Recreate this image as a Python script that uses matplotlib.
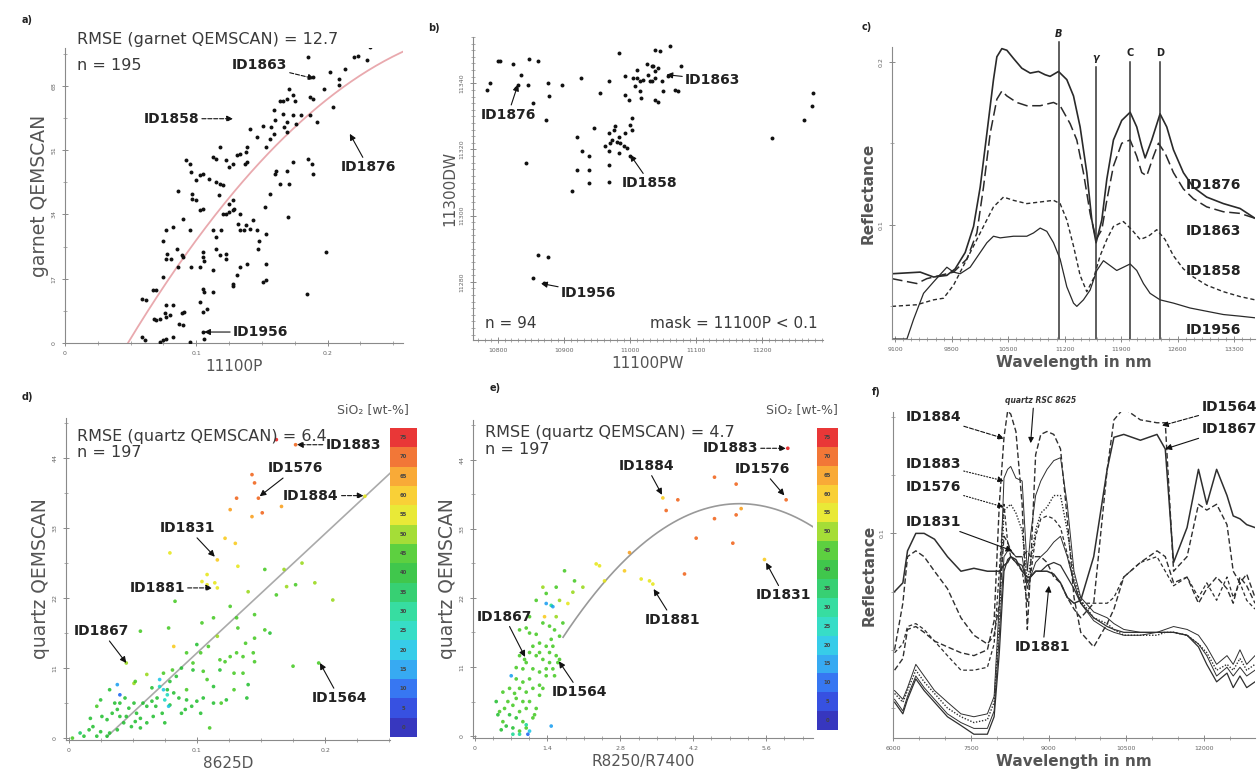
import matplotlib
matplotlib.use("Agg")
import matplotlib.pyplot as plt
import numpy as np
from matplotlib.colors import ListedColormap, BoundaryNorm
from matplotlib.ticker import AutoMinorLocator

#------------------------------------data------------------------------------------------------------

# a) garnet QEMSCAN vs 11100P
a_x = [0.232,0.230,0.223,0.220,0.213,0.209,0.209,0.202,0.197,0.204,0.185,0.189,0.187,0.189,0.187,0.192,
       0.185,0.188,0.189,0.184,0.199,0.174,0.171,0.175,0.169,0.166,0.164,0.159,0.166,0.174,0.180,0.176,
       0.169,0.167,0.169,0.160,0.157,0.159,0.156,0.153,0.151,0.146,0.141,0.139,0.138,0.137,0.139,0.133,
       0.131,0.128,0.125,0.123,0.118,0.115,0.113,0.110,0.115,0.118,0.120,0.117,0.105,0.103,0.092,0.095,
       0.096,0.100,0.097,0.100,0.097,0.103,0.105,0.086,0.090,0.082,0.077,0.075,0.078,0.077,0.081,0.085,
       0.090,0.086,0.089,0.095,0.096,0.103,0.105,0.105,0.106,0.113,0.115,0.119,0.120,0.123,0.125,0.128,
       0.129,0.128,0.125,0.133,0.132,0.133,0.136,0.138,0.141,0.143,0.146,0.148,0.152,0.153,0.156,0.160,
       0.161,0.164,0.169,0.171,0.174,0.170,0.153,0.153,0.151,0.139,0.131,0.128,0.123,0.123,0.115,0.113,
       0.105,0.106,0.113,0.103,0.105,0.108,0.089,0.087,0.090,0.091,0.082,0.077,0.075,0.069,0.067,0.062,
       0.059,0.068,0.072,0.069,0.077,0.076,0.080,0.059,0.061,0.072,0.075,0.077,0.082,0.095,0.105,0.106,
       0.128,0.133,0.147,0.118]
a_y = [78.2,74.7,76.0,75.6,72.5,69.9,68.1,71.6,67.2,62.4,75.6,70.3,65.0,64.6,60.2,58.4,
       48.7,47.4,44.8,13.0,24.1,65.5,67.2,64.1,64.6,64.1,64.1,61.5,60.6,60.2,60.2,58.0,
       58.4,57.1,55.8,58.9,57.1,55.3,54.0,51.8,57.5,54.4,56.6,51.8,50.5,47.4,47.8,50.0,
       49.6,47.4,46.5,48.3,51.8,48.7,49.2,43.4,42.6,42.1,41.7,39.0,44.8,44.3,48.3,47.4,
       45.2,43.0,39.5,37.7,38.1,35.1,35.5,40.3,32.9,30.7,29.8,27.1,23.6,22.3,22.3,24.9,
       22.7,20.1,23.2,29.8,20.1,20.1,24.1,22.7,21.8,29.8,28.0,29.8,34.2,34.2,34.6,35.1,
       35.5,37.7,36.8,34.2,31.5,29.8,29.8,31.1,30.2,32.4,29.8,27.1,35.9,28.9,39.5,44.8,
       45.6,42.1,45.6,42.1,47.8,33.3,21.0,16.6,16.1,21.0,17.9,15.2,23.6,22.3,24.9,19.2,
       14.4,13.5,13.5,10.8,8.2,9.1,7.8,5.1,4.7,8.2,10.0,10.0,17.4,13.9,13.9,11.3,
       11.7,6.4,6.4,6.0,6.9,7.8,7.3,1.6,0.7,0.3,0.7,1.1,1.6,0.3,2.9,1.1,
       15.6,20.1,24.9,23.2]
a_fit = [-985.6, 668.7, -29.8]          # quadratic fit, highest power first
a_fit_range = [0.048, 0.258]

# b) 11300DW vs 11100PW
b_x = [10782.5,10787.5,10800,10802.5,10822.5,10835,10830,10827.5,10847.5,10860,10845,10852.5,10875,
       10877.5,10872.5,10897.5,10842.5,10860,10875,10852.5,10870,10925,10955,10967.5,10982.5,10992.5,
       10992.5,10997.5,11007.5,11010,11015,11015,11020,11027.5,11025,11032.5,11037.5,11037.5,11032.5,
       11042.5,11047.5,11050,11037.5,11045,11060,11057.5,11067.5,11072.5,11077.5,11037.5,11042.5,
       11016.5,11002.5,11000,11002.5,10992.5,10982.5,10977.5,10975,10972.5,10967.5,10970,10980,10985,
       10990,10995,11000,10962.5,10967.5,10982.5,10967.5,10967.5,10945,10937.5,10920,10927.5,10920,
       10937.5,10937.5,10912.5,11215,11262.5,11275,11277.5,11005,11010,11030,11035]
b_y = [11338.1,11340.1,11346.7,11346.7,11345.7,11342.6,11339.6,11338.6,11347.2,11346.7,11339.6,11334.0,
       11340.1,11336.1,11329.0,11339.6,11315.9,11288.1,11287.6,11281.0,11279.5,11341.6,11337.1,11340.6,
       11349.2,11342.1,11336.6,11335.0,11339.1,11341.6,11340.6,11337.6,11341.1,11342.6,11345.7,11345.1,
       11343.6,11341.6,11340.6,11344.6,11340.6,11337.6,11350.2,11349.7,11351.2,11342.1,11338.1,11337.6,
       11345.1,11335.0,11334.5,11335.6,11329.5,11327.5,11326.0,11324.9,11323.9,11327.0,11326.0,11322.9,
       11324.9,11321.9,11322.4,11321.9,11320.9,11320.4,11317.9,11320.9,11319.4,11318.9,11315.4,11310.3,
       11326.5,11317.9,11323.9,11319.4,11313.8,11313.8,11309.8,11307.3,11323.4,11329.0,11333.0,11337.1,
       11341.6,11344.1,11340.6,11345.1]

# c) garnet reference spectra
c_ids = ["ID1876", "ID1863", "ID1858", "ID1956"]
c_wl = {
    "ID1876": [9059,9410,9575,9740,9843,9967,10071,10153,10236,10318,10360,10422,10484,10566,10669,10773,
               10876,10958,11020,11124,11227,11310,11392,11475,11537,11590,11661,11723,11805,11908,12012,
               12094,12156,12198,12280,12383,12466,12549,12672,12796,12961,13168,13375,13560],
    "ID1863": [9059,9368,9492,9658,9823,9988,10112,10194,10277,10360,10422,10484,10607,10731,10897,11062,
               11144,11268,11351,11433,11516,11590,11661,11723,11805,11908,12012,12094,12156,12218,12301,
               12363,12445,12549,12672,12796,12961,13168,13375,13560],
    "ID1858": [9059,9368,9575,9699,9823,9947,10071,10194,10318,10442,10566,10731,10897,11062,11144,11227,
               11310,11392,11475,11557,11640,11723,11805,11929,12032,12136,12239,12342,12445,12549,12672,
               12796,12961,13168,13375,13560],
    "ID1956": [9059,9245,9327,9451,9575,9740,9823,9905,10029,10153,10236,10318,10401,10566,10731,10814,
               10897,10979,11062,11144,11227,11310,11351,11433,11516,11599,11681,11764,11846,11929,12012,
               12094,12177,12259,12383,12549,12755,12961,13168,13375,13560],
}
c_refl = {
    "ID1876": [0.070,0.071,0.068,0.069,0.073,0.083,0.099,0.123,0.156,0.189,0.203,0.208,0.207,0.202,0.196,
               0.193,0.194,0.192,0.191,0.194,0.189,0.179,0.160,0.132,0.103,0.089,0.103,0.128,0.152,0.164,
               0.169,0.160,0.148,0.141,0.152,0.168,0.160,0.146,0.132,0.123,0.117,0.113,0.110,0.104],
    "ID1863": [0.067,0.064,0.067,0.069,0.071,0.079,0.095,0.123,0.156,0.177,0.182,0.179,0.175,0.173,0.173,
               0.175,0.173,0.162,0.152,0.132,0.107,0.091,0.097,0.115,0.136,0.150,0.152,0.142,0.132,0.130,
               0.142,0.150,0.144,0.132,0.122,0.116,0.111,0.108,0.107,0.104],
    "ID1858": [0.050,0.051,0.054,0.055,0.063,0.075,0.087,0.099,0.111,0.117,0.115,0.113,0.114,0.115,0.113,
               0.103,0.087,0.069,0.059,0.067,0.081,0.091,0.099,0.102,0.097,0.091,0.093,0.097,0.091,0.081,
               0.073,0.068,0.063,0.059,0.056,0.054],
    "ID1956": [0.030,0.030,0.042,0.058,0.065,0.074,0.071,0.070,0.074,0.083,0.089,0.093,0.092,0.093,0.093,
               0.095,0.098,0.096,0.089,0.079,0.062,0.052,0.050,0.054,0.060,0.072,0.078,0.075,0.072,0.074,
               0.076,0.072,0.064,0.058,0.054,0.052,0.049,0.047,0.045,0.044,0.043],
}
c_styles = {"ID1876": ("-", 1.2), "ID1863": ((0, (7, 3)), 1.1), "ID1858": ((0, (3, 2)), 1.0),
            "ID1956": ("-", 0.9)}
c_label_y = [0.1245, 0.096, 0.0714, 0.0357]
c_bands = ["B", "γ", "C", "D"]
c_band_wl = [11125, 11590, 12010, 12385]
c_band_top = [0.212, 0.197, 0.200, 0.200]

# d) / e) quartz QEMSCAN vs 8625D and R8250/R7400, coloured by SiO2
d_x = [0.162,0.177,0.143,0.145,0.148,0.131,0.126,0.143,0.151,0.166,0.122,0.130,0.116,0.079,0.108,0.132,
       0.104,0.114,0.116,0.108,0.231,0.182,0.168,0.170,0.177,0.192,0.206,0.162,0.153,0.140,0.126,0.131,
       0.145,0.083,0.056,0.045,0.078,0.082,0.100,0.103,0.109,0.116,0.118,0.122,0.131,0.132,0.145,0.153,
       0.157,0.145,0.175,0.195,0.139,0.140,0.136,0.129,0.119,0.110,0.113,0.108,0.105,0.097,0.088,0.084,
       0.081,0.079,0.077,0.071,0.069,0.079,0.073,0.075,0.088,0.091,0.096,0.100,0.092,0.061,0.051,0.052,
       0.038,0.032,0.025,0.022,0.026,0.030,0.034,0.038,0.040,0.044,0.047,0.051,0.053,0.056,0.061,0.065,
       0.066,0.061,0.056,0.049,0.043,0.038,0.032,0.025,0.019,0.016,0.012,0.003,0.009,0.030,0.022,0.017,
       0.040,0.045,0.052,0.058,0.068,0.082,0.086,0.092,0.103,0.105,0.113,0.123,0.129,0.136,0.144,0.138,
       0.104,0.113,0.118,0.126,0.092,0.097,0.074,0.065,0.036,0.071,0.074,0.077,0.075,0.078,0.040]
d_y = [46.9,46.1,41.4,40.1,37.7,37.7,35.9,34.8,35.4,36.4,31.4,30.6,28.0,29.1,25.7,27.0,
       24.6,24.4,23.6,24.1,38.0,27.5,26.5,23.8,24.1,24.4,21.7,22.5,26.5,23.0,20.7,18.9,
       19.4,21.5,16.8,11.8,17.3,14.4,14.7,13.4,14.4,16.0,12.3,12.0,13.4,17.3,15.7,17.0,
       16.5,12.0,11.3,11.8,6.3,8.4,10.2,7.6,5.5,1.6,8.1,9.2,10.5,11.8,11.0,9.7,
       10.7,8.9,7.6,8.1,6.3,5.2,3.9,2.4,3.9,4.5,5.0,5.8,7.6,10.0,8.6,8.9,
       8.4,7.6,6.0,5.0,3.4,2.9,3.9,4.5,5.5,6.3,4.7,5.5,3.9,3.1,5.0,5.8,
       3.4,2.4,1.6,1.8,2.4,1.3,0.8,1.0,1.8,1.3,0.3,0.0,0.8,0.3,0.3,3.1,
       3.4,3.4,2.6,5.5,5.0,7.1,6.3,6.0,3.9,6.3,5.5,6.0,10.2,12.8,13.4,14.9,
       18.1,18.9,10.7,12.8,13.4,10.7,10.2,7.9,5.5,9.2,7.6,6.8,6.0,5.0,6.8]
d_sio2 = [75,70,70,70,70,70,65,65,70,65,60,60,60,55,55,55,
          55,55,55,55,55,50,50,50,45,50,50,45,45,50,45,45,
          45,45,45,50,45,60,40,45,45,50,45,45,45,45,45,45,
          40,45,45,45,40,40,45,45,45,45,40,45,45,45,40,40,
          45,40,40,25,40,40,40,40,40,40,40,40,45,50,50,45,
          15,40,40,45,40,40,40,40,40,40,40,40,40,40,40,40,
          40,40,40,40,40,40,40,40,40,40,40,45,35,40,40,40,
          40,40,40,40,40,40,40,40,40,40,40,40,45,45,45,45,
          45,45,40,45,45,40,45,40,40,20,20,25,25,20,10]
d_fit = [187.6, -5.4]
d_fit_range = [0.03, 0.2506]

e_x = [6.016,4.608,5.024,3.616,3.904,3.680,4.608,5.024,5.120,5.984,4.256,4.960,4.032,5.568,2.976,2.880,
       2.336,2.400,2.496,3.200,3.360,3.424,2.080,1.888,1.728,1.920,1.792,1.568,1.472,1.184,1.344,0.992,
       0.864,1.056,1.184,1.312,1.440,1.536,1.632,1.472,1.376,1.248,1.120,1.056,1.184,1.312,1.440,1.568,
       1.632,0.992,0.928,1.120,1.248,1.376,1.056,0.928,0.864,0.992,1.120,1.248,0.800,0.928,0.736,0.864,
       0.992,0.672,0.800,0.928,0.544,0.480,0.608,0.736,0.864,0.992,1.120,1.184,1.056,0.544,0.448,0.800,
       0.672,0.864,0.800,1.056,1.504,1.536,0.736,1.056,1.472,1.024,0.864,1.376,1.504,0.704,0.992,1.152,
       1.248,1.312,1.376,1.440,1.504,1.248,0.768,0.640,0.576,0.416,0.512,1.568,1.696,1.312,1.376,1.632,
       0.960,1.600]
e_y = [45.8,41.2,40.1,37.9,37.6,35.9,34.6,35.2,36.2,37.6,31.5,30.7,25.8,28.1,29.2,26.3,
       27.4,27.1,24.7,25.0,24.7,24.2,23.7,22.9,26.3,24.7,21.1,23.7,20.8,21.6,19.0,17.2,
       16.9,16.4,16.2,18.0,17.5,16.9,15.9,15.4,14.3,14.8,14.3,13.3,12.8,12.2,11.7,12.8,
       12.2,11.7,10.7,10.7,10.2,9.6,9.1,8.6,7.6,7.0,7.6,8.1,6.0,5.5,4.9,3.9,
       4.4,3.4,2.9,2.3,2.3,3.9,1.6,1.3,0.8,1.3,2.9,4.4,5.5,7.0,3.4,9.1,
       7.6,12.8,10.9,19.0,10.7,9.6,0.3,0.8,1.6,0.3,0.3,21.1,20.6,9.6,1.8,3.4,
       6.5,7.6,10.7,13.3,14.3,13.3,6.8,5.5,4.4,5.5,1.0,19.0,18.0,23.7,22.7,21.6,
       12.2,11.7]
e_sio2 = [75,70,70,60,70,70,70,70,65,70,70,70,70,60,65,60,
          55,55,55,55,55,55,50,50,45,45,55,45,30,45,60,45,
          45,45,45,45,45,45,45,45,45,45,45,45,45,45,45,45,
          45,45,45,45,45,45,45,45,45,45,45,45,45,45,45,45,
          45,40,40,45,45,45,40,40,45,45,45,45,45,45,40,45,
          45,45,45,45,45,45,30,20,15,10,30,15,15,15,30,45,
          45,45,45,45,45,45,45,45,45,40,40,50,45,50,45,50,
          45,45]
e_fit = [-1.85, 18.83, -10.93]
e_fit_range = [1.7, 6.6]

sio2_levels = list(range(0, 85, 5))
sio2_colors = ['#1414b4', '#1432dc', '#145ff0', '#149bf0', '#14c3e6', '#14d7be', '#14d791', '#14c85a',
               '#1ebe2d', '#41c81e', '#96d714', '#e6e614', '#f8c814', '#f89b14', '#f05f14', '#e61414']

# f) quartz reference spectra
f_wl = [6030,6190,6280,6440,6600,6800,7050,7310,7560,7820,7950,8050,8140,8210,8270,8370,8490,8590,8650,
        8750,8850,8970,9100,9230,9360,9490,9620,9870,10130,10260,10450,10770,11090,11250,11410,11670,
        11890,12050,12240,12440,12560,12690,12820,12980]
f_refl = {
    "ID1867": [0.080,0.083,0.094,0.100,0.100,0.098,0.092,0.087,0.088,0.087,0.087,0.087,0.089,0.090,0.092,
               0.091,0.087,0.085,0.085,0.087,0.087,0.087,0.086,0.083,0.078,0.076,0.077,0.092,0.122,0.133,
               0.134,0.132,0.134,0.129,0.090,0.102,0.122,0.110,0.122,0.113,0.106,0.105,0.103,0.102],
    "ID1564": [0.060,0.076,0.092,0.094,0.092,0.087,0.081,0.071,0.065,0.062,0.065,0.076,0.099,0.097,0.094,
               0.092,0.092,0.094,0.092,0.092,0.092,0.090,0.085,0.083,0.078,0.074,0.071,0.076,0.122,0.139,
               0.143,0.139,0.138,0.138,0.087,0.092,0.110,0.108,0.110,0.103,0.087,0.083,0.086,0.078],
    "ID1884": [0.053,0.057,0.067,0.068,0.066,0.063,0.061,0.059,0.058,0.060,0.070,0.110,0.133,0.142,0.141,
               0.135,0.110,0.067,0.087,0.127,0.134,0.135,0.134,0.129,0.105,0.078,0.066,0.061,0.069,0.074,
               0.085,0.090,0.094,0.092,0.083,0.085,0.076,0.081,0.085,0.081,0.076,0.085,0.082,0.076],
    "ID1883": [0.046,0.043,0.047,0.055,0.051,0.046,0.042,0.038,0.037,0.038,0.044,0.076,0.119,0.122,0.123,
               0.119,0.118,0.087,0.099,0.113,0.118,0.122,0.125,0.126,0.110,0.087,0.078,0.073,0.071,0.069,
               0.067,0.066,0.066,0.067,0.068,0.067,0.065,0.061,0.055,0.058,0.055,0.060,0.055,0.058],
    "ID1576": [0.045,0.042,0.046,0.053,0.049,0.045,0.040,0.037,0.035,0.036,0.042,0.070,0.108,0.109,0.110,
               0.107,0.101,0.083,0.090,0.101,0.107,0.109,0.113,0.113,0.101,0.085,0.077,0.071,0.069,0.067,
               0.065,0.065,0.065,0.066,0.066,0.065,0.062,0.059,0.053,0.055,0.053,0.057,0.053,0.055],
    "ID1831": [0.043,0.039,0.044,0.051,0.047,0.043,0.038,0.035,0.033,0.033,0.039,0.065,0.092,0.094,0.094,
               0.092,0.092,0.081,0.085,0.090,0.092,0.094,0.097,0.099,0.092,0.083,0.076,0.070,0.067,0.066,
               0.065,0.065,0.066,0.066,0.066,0.065,0.062,0.058,0.051,0.054,0.051,0.054,0.051,0.053],
    "ID1881": [0.042,0.038,0.043,0.050,0.046,0.042,0.037,0.034,0.031,0.031,0.037,0.059,0.087,0.091,0.092,
               0.090,0.089,0.083,0.085,0.087,0.087,0.089,0.090,0.089,0.085,0.081,0.076,0.071,0.068,0.067,
               0.066,0.066,0.066,0.066,0.066,0.065,0.061,0.055,0.049,0.052,0.047,0.051,0.047,0.049],
    "ID1883b": [0.059,0.062,0.068,0.069,0.067,0.063,0.058,0.053,0.053,0.054,0.062,0.087,0.110,0.097,0.092,
                0.090,0.087,0.076,0.085,0.099,0.105,0.106,0.105,0.102,0.093,0.083,0.076,0.076,0.076,0.078,
                0.085,0.090,0.092,0.087,0.082,0.085,0.078,0.083,0.077,0.085,0.078,0.083,0.077,0.074],
}
f_styles = {"ID1867": ("-", 1.1), "ID1564": ((0, (4, 2)), 1.0), "ID1884": ((0, (4, 2)), 1.0),
            "ID1883": ("-", 0.7), "ID1576": ((0, (1, 1.2)), 1.0), "ID1831": ("-", 0.7),
            "ID1881": ("-", 0.9), "ID1883b": ((0, (3, 2)), 0.9)}

#------------------------------------helpers-----------------------------------------------------------

W, H = 1258, 781
fig = plt.figure(figsize=(W / 100, H / 100), dpi=100)
INK = '#3a3a3a'


def box(l, t, r, b):
    return [l / W, 1 - b / H, (r - l) / W, (b - t) / H]


def style(ax, xminor=4, yminor=2):
    for s in ['top', 'right']:
        ax.spines[s].set_visible(False)
    for s in ['left', 'bottom']:
        ax.spines[s].set_color('#8a8a8a')
        ax.spines[s].set_linewidth(0.8)
    ax.xaxis.set_minor_locator(AutoMinorLocator(xminor))
    ax.yaxis.set_minor_locator(AutoMinorLocator(yminor))
    ax.tick_params(which='both', direction='inout', colors='#8a8a8a', labelsize=4.5, labelcolor='#666')
    ax.tick_params(which='major', length=5, width=0.7)
    ax.tick_params(which='minor', length=2.5, width=0.5)
    ax.tick_params(axis='y', labelrotation=90)
    for lab in ax.get_yticklabels():
        lab.set_va('center')


def labels(ax, xl, yl, bold=False, ysize=11):
    w = 'bold' if bold else 'normal'
    ax.set_xlabel(xl, fontsize=11, color='#555', fontweight=w, labelpad=2)
    ax.set_ylabel(yl, fontsize=ysize, color='#555', fontweight=w, labelpad=2)


def tag(ax, txt, xytext, xy=None, ls='-'):
    if xy is None:
        ax.text(xytext[0], xytext[1], txt, ha='center', va='center', fontsize=10, fontweight='bold',
                color='#222', clip_on=False)
        return
    ax.annotate(txt, xy=xy, xytext=xytext, ha='center', va='center', fontsize=10, fontweight='bold',
                color='#222', annotation_clip=False,
                arrowprops=dict(arrowstyle='-|>', color='#111', lw=0.8, ls=ls, mutation_scale=9,
                                shrinkA=0, shrinkB=0))


def sio2_bar(rect, mappable):
    cax = fig.add_axes(rect)
    cb = fig.colorbar(mappable, cax=cax, ticks=[])
    cb.outline.set_visible(False)
    cax.minorticks_off()
    cax.tick_params(length=0)
    for v in sio2_levels[:-1]:
        cax.text(0.5, v + 2.5, str(v), ha='center', va='center', fontsize=3.8, fontweight='bold',
                 color='#444')
    return cax


cmap = ListedColormap(sio2_colors)
norm = BoundaryNorm(sio2_levels, cmap.N)

#------------------------------------a) garnet----------------------------------------------------------

ax = fig.add_axes(box(65, 48, 403, 343))
ax.scatter(a_x, a_y, s=8, c='#111', linewidths=0, zorder=3)
xf = np.linspace(a_fit_range[0], a_fit_range[1], 200)
ax.plot(xf, np.polyval(a_fit, xf), color='#e9a9ae', lw=1.3, zorder=2)
ax.set_xlim(0, 0.2575)
ax.set_ylim(0, 78)
ax.set_xticks([0, 0.1, 0.2], ['0', '0.1', '0.2'])
ax.set_yticks([0, 17, 34, 51, 68])
style(ax, 4, 2)
labels(ax, '11100P', 'garnet QEMSCAN', ysize=13.5)
ax.text(0.036, 1.03, 'RMSE (garnet QEMSCAN) = 12.7', transform=ax.transAxes, fontsize=11.5, color=INK,
        va='center')
ax.text(0.036, 0.942, 'n = 195', transform=ax.transAxes, fontsize=11.5, color=INK, va='center')
tag(ax, 'ID1863', (0.148, 73.4), (0.190, 69.9), ls='--')
tag(ax, 'ID1858', (0.081, 59.3), (0.128, 59.3), ls='--')
tag(ax, 'ID1876', (0.231, 46.5), (0.217, 55.3))
tag(ax, 'ID1956', (0.149, 2.9), (0.106, 2.9))

#------------------------------------b) 11300DW vs 11100PW---------------------------------------------

ax = fig.add_axes(box(473, 37, 823, 340))
ax.scatter(b_x, b_y, s=8, c='#111', linewidths=0, zorder=3)
ax.set_xlim(10762, 11292)
ax.set_ylim(11262.4, 11354)
ax.set_xticks([10800, 10900, 11000, 11100, 11200])
ax.set_yticks([11280, 11300, 11320, 11340])
style(ax, 10, 10)
labels(ax, '11100PW', '11300DW')
ax.text(0.034, 0.056, 'n = 94', transform=ax.transAxes, fontsize=11, color=INK, va='center')
ax.text(0.986, 0.056, 'mask = 11100P < 0.1', transform=ax.transAxes, fontsize=11, color=INK,
        va='center', ha='right')
tag(ax, 'ID1876', (10815, 11330.5), (10830, 11339.6))
tag(ax, 'ID1863', (11125, 11341.1), (11055, 11342.6))
tag(ax, 'ID1858', (11030, 11309.8), (11000, 11318.4))
tag(ax, 'ID1956', (10937, 11276.7), (10865, 11279.5))

#------------------------------------c) garnet spectra--------------------------------------------------

ax = fig.add_axes(box(892, 47, 1255, 339))
for k in c_ids:
    ls, lw = c_styles[k]
    ax.plot(c_wl[k], c_refl[k], color='#2a2a2a', ls=ls, lw=lw)
for name, wl, top in zip(c_bands, c_band_wl, c_band_top):
    ax.plot([wl, wl], [0.03, top], color='#333', lw=1.1, clip_on=False)
    ax.text(wl, top + 0.002, name, ha='center', va='bottom', fontsize=7, fontweight='bold',
            style='italic' if name in ('B', 'γ') else 'normal', color='#222')
for k, yv in zip(c_ids, c_label_y):
    tag(ax, k, (13050, yv))
ax.set_xlim(9060, 13560)
ax.set_ylim(0.03, 0.209)
ax.set_xticks([9100, 9800, 10500, 11200, 11900, 12600, 13300])
ax.set_yticks([0.1, 0.2])
style(ax, 7, 2)
labels(ax, 'Wavelength in nm', 'Reflectance', bold=True)

#------------------------------------d) quartz vs 8625D------------------------------------------------

ax = fig.add_axes(box(66, 418, 390, 740))
sc = ax.scatter(d_x, d_y, s=7, c=d_sio2, cmap=cmap, norm=norm, linewidths=0, alpha=0.85, zorder=3)
xf = np.linspace(d_fit_range[0], d_fit_range[1], 50)
ax.plot(xf, np.polyval(d_fit, xf), color='#aaaaaa', lw=1.2, zorder=2)
ax.set_xlim(-0.002, 0.2506)
ax.set_ylim(-0.3, 50.3)
ax.set_xticks([0, 0.1, 0.2], ['0', '0.1', '0.2'])
ax.set_yticks([0, 11, 22, 33, 44])
style(ax, 4, 2)
labels(ax, '8625D', 'quartz QEMSCAN', ysize=13.5)
ax.text(0.034, 0.941, 'RMSE (quartz QEMSCAN) = 6.4', transform=ax.transAxes, fontsize=11.5, color=INK,
        va='center')
ax.text(0.034, 0.894, 'n = 197', transform=ax.transAxes, fontsize=11.5, color=INK, va='center')
tag(ax, 'ID1883', (0.222, 46.1), (0.178, 46.1), ls='--')
tag(ax, 'ID1576', (0.177, 42.4), (0.149, 38.0))
tag(ax, 'ID1884', (0.189, 38.1), (0.230, 38.1), ls='--')
tag(ax, 'ID1831', (0.093, 33.0), (0.114, 28.5))
tag(ax, 'ID1881', (0.069, 23.6), (0.112, 23.6), ls='--')
tag(ax, 'ID1867', (0.026, 16.8), (0.045, 11.8))
tag(ax, 'ID1564', (0.211, 6.3), (0.196, 11.8))
sio2_bar(box(390, 428, 417, 737), sc)
fig.text(337 / W, 1 - 410 / H, 'SiO₂ [wt-%]', fontsize=9, color='#555', va='center')

#------------------------------------e) quartz vs R8250/R7400------------------------------------------

ax = fig.add_axes(box(473, 420, 813, 738))
sc = ax.scatter(e_x, e_y, s=7, c=e_sio2, cmap=cmap, norm=norm, linewidths=0, alpha=0.85, zorder=3)
xf = np.linspace(e_fit_range[0], e_fit_range[1], 200)
ax.plot(xf, np.polyval(e_fit, xf), color='#999999', lw=1.2, zorder=2)
ax.set_xlim(-0.03, 6.5)
ax.set_ylim(-0.3, 50.3)
ax.set_xticks([0, 1.4, 2.8, 4.2, 5.6], ['0', '1.4', '2.8', '4.2', '5.6'])
ax.set_yticks([0, 11, 22, 33, 44])
style(ax, 4, 2)
labels(ax, 'R8250/R7400', 'quartz QEMSCAN', ysize=13.5)
ax.text(0.035, 0.962, 'RMSE (quartz QEMSCAN) = 4.7', transform=ax.transAxes, fontsize=11.5, color=INK,
        va='center')
ax.text(0.035, 0.906, 'n = 197', transform=ax.transAxes, fontsize=11.5, color=INK, va='center')
tag(ax, 'ID1883', (4.91, 45.8), (5.98, 45.8), ls='--')
tag(ax, 'ID1884', (3.30, 43.0), (3.60, 38.4))
tag(ax, 'ID1576', (5.52, 42.5), (5.95, 38.3))
tag(ax, 'ID1831', (5.94, 22.4), (5.60, 27.6))
tag(ax, 'ID1881', (3.81, 18.5), (3.44, 23.4))
tag(ax, 'ID1867', (0.576, 19.0), (0.97, 12.6))
tag(ax, 'ID1564', (2.02, 7.0), (1.62, 11.9))
sio2_bar(box(817, 428, 838, 730), sc)
fig.text(766 / W, 1 - 410 / H, 'SiO₂ [wt-%]', fontsize=9, color='#555', va='center')

#------------------------------------f) quartz spectra--------------------------------------------------

ax = fig.add_axes(box(893, 412, 1255, 738))
for k, r in f_refl.items():
    ls, lw = f_styles[k]
    ax.plot(f_wl, r, color='#2f2f2f', ls=ls, lw=lw)
ax.set_xlim(6000, 12980)
ax.set_ylim(0.0297, 0.1417)
ax.set_xticks([6000, 7500, 9000, 10500, 12000])
ax.set_yticks([0.1])
style(ax, 3, 2)
ax.set_yticks(np.arange(0.04, 0.141, 0.02), minor=True)
labels(ax, 'Wavelength in nm', 'Reflectance', bold=True)
tag(ax, 'ID1884', (6776, 0.140), (8141, 0.1326), ls='--')
tag(ax, 'ID1883', (6776, 0.124), (8141, 0.118), ls=':')
tag(ax, 'ID1576', (6776, 0.116), (8141, 0.109), ls=':')
tag(ax, 'ID1831', (6776, 0.104), (8301, 0.094))
tag(ax, 'ID1881', (8891, 0.061), (9006, 0.082))
tag(ax, 'ID1564', (12480, 0.1434), (11186, 0.137), ls='--')
tag(ax, 'ID1867', (12480, 0.136), (11250, 0.129))
ax.annotate('quartz RSC 8625', xy=(8654, 0.131), xytext=(8846, 0.1455), ha='center', va='center',
            fontsize=5.5, fontweight='bold', style='italic', color='#333', annotation_clip=False,
            arrowprops=dict(arrowstyle='-|>', color='#111', lw=0.8, mutation_scale=8, shrinkA=0, shrinkB=0,
                            relpos=(0.4, 0.0)))

#------------------------------------panel letters------------------------------------------------------

for s, (px, py) in zip('abcdef', [(22, 20), (428, 28), (862, 27), (22, 397), (490, 388), (872, 392)]):
    fig.text(px / W, 1 - py / H, s + ')', fontsize=7, fontweight='bold', color='#222', va='center')

fig.savefig('out.png', dpi=100)
